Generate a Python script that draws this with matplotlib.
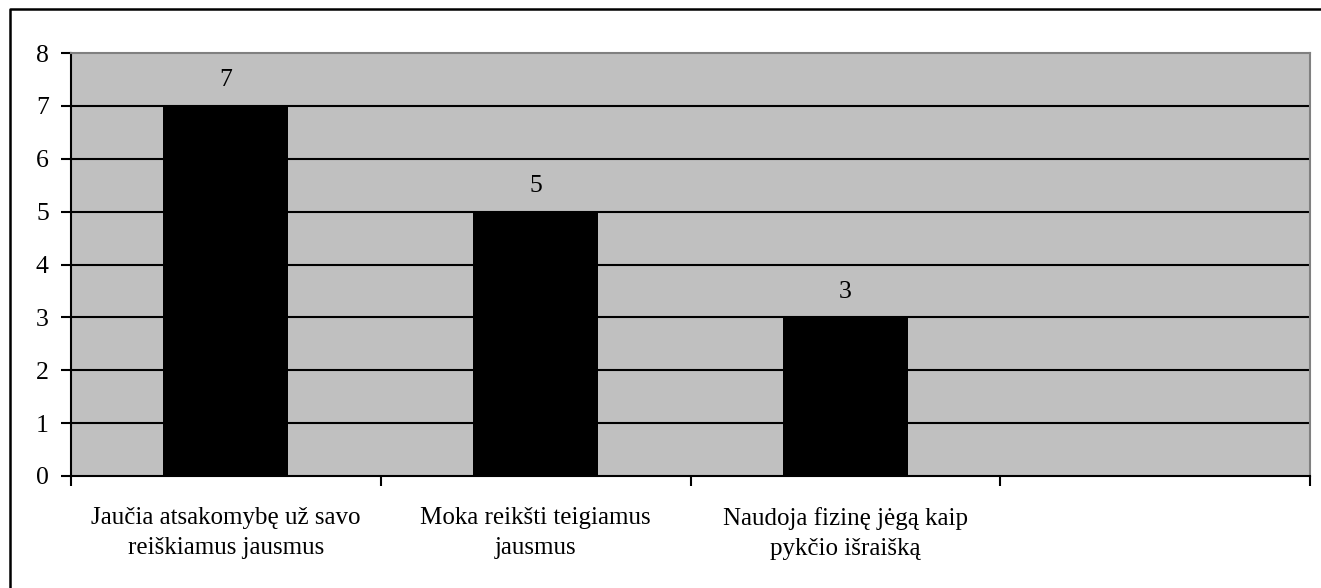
import matplotlib
matplotlib.use("Agg")
import matplotlib.pyplot as plt
from matplotlib.lines import Line2D

categories = [
    "Jaučia atsakomybę už savo\nreiškiamus jausmus",
    "Moka reikšti teigiamus\njausmus",
    "Naudoja fizinę jėgą kaip\npykčio išraišką",
    "",
]
values = [7, 5, 3]
yticks = [0, 1, 2, 3, 4, 5, 6, 7, 8]

plt.rcParams["font.family"] = ["Liberation Serif", "DejaVu Serif"]

W, H = 1321, 588
fig = plt.figure(figsize=(W / 100, H / 100), dpi=100)
fig.patch.set_facecolor("white")

# chart frame (top and left edges)
fig.add_artist(Line2D([10 / W, 10 / W, 1.0], [0.0, 1 - 9 / H, 1 - 9 / H],
                      color="black", lw=1.8, transform=fig.transFigure))

ax = fig.add_axes([71 / W, (H - 476) / H, (1310 - 71) / W, (476 - 53) / H])
ax.set_facecolor("#C0C0C0")

n = len(categories)
ax.set_xlim(-0.5, n - 0.5)
ax.set_ylim(yticks[0], yticks[-1])

for y in yticks[1:-1]:
    ax.axhline(y, color="black", lw=1.5, zorder=1)

xs = list(range(len(values)))
ax.bar(xs, values, width=0.404, color="black", zorder=2)
for x, v in zip(xs, values):
    ax.annotate(str(v), (x, v), xytext=(0, 18.5), textcoords="offset points",
                ha="center", va="center", fontsize=18.5)

ax.set_yticks(yticks)
ax.set_yticklabels([str(t) for t in yticks], fontsize=18.5)
ax.tick_params(axis="y", direction="out", length=7, width=1.5, pad=9)

ax.set_xticks([i - 0.5 for i in range(n + 1)])
ax.set_xticklabels([])
ax.set_xticks(list(range(n)), minor=True)
ax.set_xticklabels(categories, minor=True, fontsize=18, linespacing=1.5)
ax.tick_params(axis="x", which="major", direction="out", length=7, width=1.5)
ax.tick_params(axis="x", which="minor", length=0, pad=22)

for side in ("left", "bottom"):
    ax.spines[side].set_color("black")
    ax.spines[side].set_linewidth(1.5)
for side in ("top", "right"):
    ax.spines[side].set_color("#808080")
    ax.spines[side].set_linewidth(1.5)

fig.savefig("out.png", dpi=100)
